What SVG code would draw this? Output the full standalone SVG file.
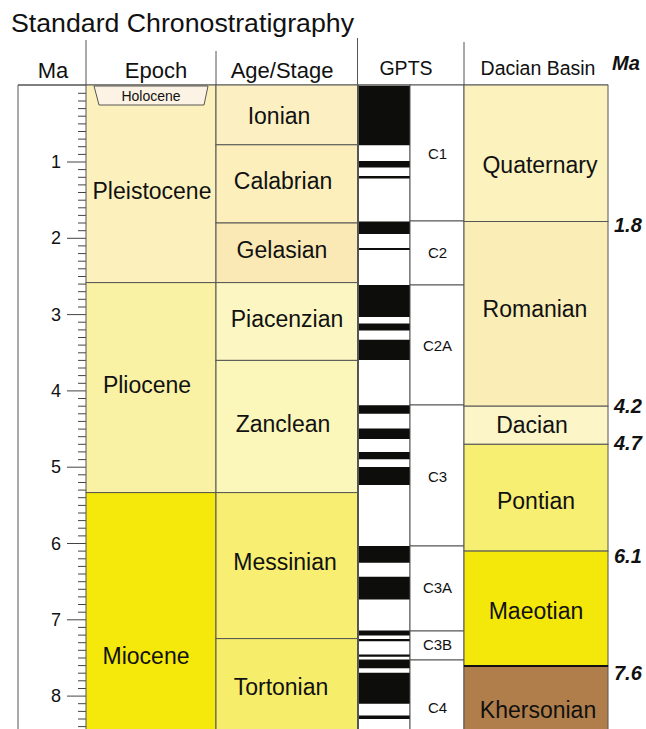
<svg xmlns="http://www.w3.org/2000/svg" width="646" height="729" viewBox="0 0 646 729">
<style>
text{font-family:"Liberation Sans",Arial,sans-serif;fill:#111}
.hd{font-size:22px;text-anchor:middle}
.hs{font-size:19.5px;text-anchor:middle}
.lb{font-size:23px;text-anchor:middle}
.gp{font-size:15px;text-anchor:middle}
.ax{font-size:18px;text-anchor:end}
.bi{font-size:20px;font-weight:bold;font-style:italic}
.bd{stroke:#555;stroke-width:1;fill:none}
.ln{stroke:#555;stroke-width:1}
</style>
<rect width="646" height="729" fill="#fff"/>
<g id="title"><text x="11" y="32" font-size="26" textLength="343" lengthAdjust="spacingAndGlyphs">Standard Chronostratigraphy</text></g>
<g id="header">
<text class="hd" x="53" y="78">Ma</text>
<text class="hd" x="156" y="78">Epoch</text>
<text class="hd" x="282" y="78">Age/Stage</text>
<text class="hs" x="406" y="75">GPTS</text>
<text class="hs" x="538" y="75">Dacian Basin</text>
<text class="bi" x="612" y="70">Ma</text>
<path class="ln" d="M86 40V85M216 51V85M357.5 38V85M464 42V85M18 85H608"/>
</g>
<g id="ma-axis">
<path class="bd" d="M18 85V729M18 85H86"/>
<path stroke="#444" stroke-width="1" d="M78 93.3h8M78 101h8M78 108.6h8M78 116.2h8M78 123.9h8M78 131.5h8M78 139.1h8M78 146.7h8M78 154.4h8M67 162h19M78 169.6h8M78 177.3h8M78 184.9h8M78 192.5h8M78 200.2h8M78 207.8h8M78 215.4h8M78 223h8M78 230.7h8M67 238.3h19M78 245.9h8M78 253.6h8M78 261.2h8M78 268.8h8M78 276.5h8M78 284.1h8M78 291.7h8M78 299.3h8M78 307h8M67 314.6h19M78 322.2h8M78 329.9h8M78 337.5h8M78 345.1h8M78 352.8h8M78 360.4h8M78 368h8M78 375.6h8M78 383.3h8M67 390.9h19M78 398.5h8M78 406.2h8M78 413.8h8M78 421.4h8M78 429.1h8M78 436.7h8M78 444.3h8M78 451.9h8M78 459.6h8M67 467.2h19M78 474.8h8M78 482.5h8M78 490.1h8M78 497.7h8M78 505.4h8M78 513h8M78 520.6h8M78 528.2h8M78 535.9h8M67 543.5h19M78 551.1h8M78 558.8h8M78 566.4h8M78 574h8M78 581.7h8M78 589.3h8M78 596.9h8M78 604.5h8M78 612.2h8M67 619.8h19M78 627.4h8M78 635.1h8M78 642.7h8M78 650.3h8M78 658h8M78 665.6h8M78 673.2h8M78 680.8h8M78 688.5h8M67 696.1h19M78 703.7h8M78 711.4h8M78 719h8M78 726.6h8"/>
<text class="ax" x="61" y="168">1</text>
<text class="ax" x="61" y="244.3">2</text>
<text class="ax" x="61" y="320.6">3</text>
<text class="ax" x="61" y="396.9">4</text>
<text class="ax" x="61" y="473.2">5</text>
<text class="ax" x="61" y="549.5">6</text>
<text class="ax" x="61" y="625.8">7</text>
<text class="ax" x="61" y="702.1">8</text>
</g>
<g id="epoch-pleistocene"><rect x="86" y="85" width="130" height="197.6" fill="#FCF1BD" stroke="#555"/><text class="lb" x="152" y="199">Pleistocene</text></g>
<g id="epoch-holocene"><polygon points="94,86 208,86 204,105 99,105" fill="#FDF3E4" stroke="#555"/><text x="151" y="100.5" font-size="14" text-anchor="middle">Holocene</text></g>
<g id="epoch-pliocene"><rect x="86" y="282.6" width="130" height="210" fill="#F9F2A5" stroke="#555"/><text class="lb" x="147" y="393">Pliocene</text></g>
<g id="epoch-miocene"><rect x="86" y="492.6" width="130" height="245" fill="#F5E90B" stroke="#555"/><text class="lb" x="146" y="664">Miocene</text></g>
<g id="stage-ionian"><rect x="216" y="85" width="141.5" height="59.8" fill="#FCF0C3" stroke="#555"/><text class="lb" x="279" y="124">Ionian</text></g>
<g id="stage-calabrian"><rect x="216" y="144.8" width="141.5" height="78.2" fill="#FCEFBB" stroke="#555"/><text class="lb" x="283" y="189">Calabrian</text></g>
<g id="stage-gelasian"><rect x="216" y="223" width="141.5" height="59.6" fill="#FBE9B5" stroke="#555"/><text class="lb" x="282" y="258">Gelasian</text></g>
<g id="stage-piacenzian"><rect x="216" y="282.6" width="141.5" height="77.8" fill="#FCF7C2" stroke="#555"/><text class="lb" x="287" y="327">Piacenzian</text></g>
<g id="stage-zanclean"><rect x="216" y="360.4" width="141.5" height="132.2" fill="#FBF6BA" stroke="#555"/><text class="lb" x="283" y="432">Zanclean</text></g>
<g id="stage-messinian"><rect x="216" y="492.6" width="141.5" height="146" fill="#F7EE72" stroke="#555"/><text class="lb" x="285" y="570">Messinian</text></g>
<g id="stage-tortonian"><rect x="216" y="638.6" width="141.5" height="100" fill="#F6EE6A" stroke="#555"/><text class="lb" x="281" y="695">Tortonian</text></g>
<g id="gpts-polarity">
<rect x="358.5" y="85" width="51.5" height="660" fill="#fff" stroke="#555"/>
<path fill="#0d0d0b" d="M359 85.7h51v59.6h-51zM359 161.1h51v6.4h-51zM359 176h51v2.5h-51zM359 221.4h51v12.7h-51zM359 248h51v2h-51zM359 285h51v32h-51zM359 323.5h51v6.9h-51zM359 339.8h51v20.3h-51zM359 405.2h51v8.6h-51zM359 428.5h51v10.5h-51zM359 451.9h51v7.4h-51zM359 467h51v18.1h-51zM359 546h51v16.7h-51zM359 576.8h51v22.6h-51zM359 630.5h51v5h-51zM359 639h51v2.3h-51zM359 654.5h51v2.3h-51zM359 659.5h51v8.8h-51zM359 672.8h51v31h-51zM359 715.5h51v3.5h-51z"/>
</g>
<g id="chron-C1"><rect x="410" y="85" width="54" height="136" fill="#fff" stroke="#555"/><text class="gp" x="437.5" y="159">C1</text></g>
<g id="chron-C2"><rect x="410" y="221" width="54" height="64" fill="#fff" stroke="#555"/><text class="gp" x="437.5" y="258">C2</text></g>
<g id="chron-C2A"><rect x="410" y="285" width="54" height="120" fill="#fff" stroke="#555"/><text class="gp" x="437.5" y="351">C2A</text></g>
<g id="chron-C3"><rect x="410" y="405" width="54" height="141" fill="#fff" stroke="#555"/><text class="gp" x="437.5" y="482">C3</text></g>
<g id="chron-C3A"><rect x="410" y="546" width="54" height="85" fill="#fff" stroke="#555"/><text class="gp" x="437.5" y="593">C3A</text></g>
<g id="chron-C3B"><rect x="410" y="631" width="54" height="29" fill="#fff" stroke="#555"/><text class="gp" x="437.5" y="650">C3B</text></g>
<g id="chron-C4"><rect x="410" y="660" width="54" height="80" fill="#fff" stroke="#555"/><text class="gp" x="437.5" y="713">C4</text></g>
<g id="dacian-quaternary"><rect x="464" y="85" width="144" height="136.5" fill="#FCF2BE" stroke="#555"/><text class="lb" x="540" y="173">Quaternary</text></g>
<g id="dacian-romanian"><rect x="464" y="221.5" width="144" height="184.7" fill="#FBEDB6" stroke="#555"/><text class="lb" x="535" y="317">Romanian</text></g>
<g id="dacian-dacian"><rect x="464" y="406.2" width="144" height="38.1" fill="#FBF5C8" stroke="#555"/><text class="lb" x="532" y="433">Dacian</text></g>
<g id="dacian-pontian"><rect x="464" y="444.3" width="144" height="106.8" fill="#F7EF72" stroke="#555"/><text class="lb" x="536" y="509">Pontian</text></g>
<g id="dacian-maeotian"><rect x="464" y="551.1" width="144" height="115" fill="#F4E80A" stroke="#555"/><text class="lb" x="536" y="619">Maeotian</text></g>
<g id="dacian-khersonian"><rect x="464" y="666.1" width="144" height="80" fill="#B07E4B" stroke="#555"/><line x1="464" y1="666.1" x2="608" y2="666.1" stroke="#111" stroke-width="2"/><text class="lb" x="538" y="718">Khersonian</text></g>
<g id="boundary-ages">
<text class="bi" x="614" y="232">1.8</text>
<text class="bi" x="614" y="413">4.2</text>
<text class="bi" x="614" y="450">4.7</text>
<text class="bi" x="614" y="563">6.1</text>
<text class="bi" x="614" y="680">7.6</text>
</g>
<g id="connectors"/>
</svg>
